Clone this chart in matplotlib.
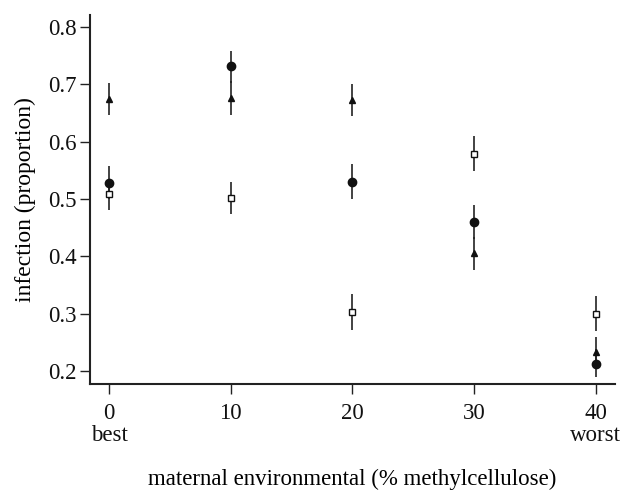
import matplotlib
matplotlib.use('Agg')
import matplotlib.pyplot as plt

plt.rcParams['font.family'] = ['Liberation Serif', 'DejaVu Serif']
plt.rcParams['mathtext.fontset'] = 'stix'

# data
x = [0, 10, 20, 30, 40]
circle_y = [0.528, 0.731, 0.530, 0.459, 0.212]
circle_lo = [0.500, 0.702, 0.500, 0.430, 0.190]
circle_hi = [0.558, 0.758, 0.560, 0.490, 0.238]
triangle_y = [0.675, 0.676, 0.672, 0.405, 0.233]
triangle_lo = [0.646, 0.647, 0.645, 0.376, 0.206]
triangle_hi = [0.702, 0.705, 0.700, 0.434, 0.259]
square_y = [0.508, 0.502, 0.303, 0.578, 0.300]
square_lo = [0.480, 0.474, 0.271, 0.549, 0.270]
square_hi = [0.535, 0.530, 0.334, 0.609, 0.331]
xtick_labels = ['0\nbest', '10', '20', '30', '40\nworst']
yticks = [0.2, 0.3, 0.4, 0.5, 0.6, 0.7, 0.8]

fig = plt.figure(figsize=(6.22, 4.93), dpi=100)
ax = fig.add_axes([0.1447, 0.221, 0.844, 0.749])

def draw(y, lo, hi, **kw):
    err = [[v - l for v, l in zip(y, lo)], [h - v for v, h in zip(y, hi)]]
    ax.errorbar(x, y, yerr=err, fmt='none', ecolor='#222222', elinewidth=1.2, capsize=0, zorder=2)
    ax.plot(x, y, linestyle='none', zorder=3, **kw)

draw(circle_y, circle_lo, circle_hi, marker='o', markersize=6, color='#111111')
draw(triangle_y, triangle_lo, triangle_hi, marker='^', markersize=4, color='#111111')
draw(square_y, square_lo, square_hi, marker='s', markersize=5, markerfacecolor='white',
     markeredgecolor='#111111', markeredgewidth=1.0)

ax.set_xlim(-1.56, 41.6)
ax.set_ylim(0.177, 0.821)
ax.set_xticks(x)
ax.set_xticklabels(xtick_labels, fontsize=16.5, linespacing=1.05)
ax.set_yticks(yticks)
ax.set_yticklabels([f'{v:.1f}' for v in yticks], fontsize=16.5)
ax.tick_params(direction='out', length=7.5, width=1.0, colors='#222222', labelcolor='#111111')
ax.tick_params(axis='y', pad=2)
ax.tick_params(axis='x', pad=6)

for side in ['top', 'right']:
    ax.spines[side].set_visible(False)
for side in ['left', 'bottom']:
    ax.spines[side].set_linewidth(1.5)
    ax.spines[side].set_color('#222222')

ax.set_ylabel('infection (proportion)', fontsize=17, labelpad=9)
ax.set_xlabel('maternal environmental (% methylcellulose)', fontsize=16.5, labelpad=17)

fig.savefig('out.png', dpi=100)
